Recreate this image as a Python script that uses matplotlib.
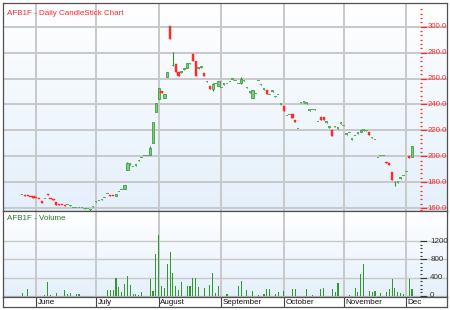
import numpy as np
import matplotlib.pyplot as plt
from matplotlib.colors import LinearSegmentedColormap
from matplotlib.transforms import blended_transform_factory

# daily prices, one entry per trading day (index 0 = mid/late May)
opens = [169.8, 169.8, 169.3, 168.6, 168.3, 167.8, 167.0, 164.6, 167.0, 171.0,
         167.2, 166.6, 164.4, 162.8, 162.3, 162.0, 162.2, 161.7, 160.0, 160.0,
         160.0, 160.0, 159.4, 159.0, 158.6, 160.8, 164.7, 165.2, 166.4, 167.4,
         170.6, 169.8, 169.6, 169.5, 172.1, 173.8, 174.5, 189.3, 193.5, 191.3,
         192.8, 196.3, 198.6, 199.8, 199.8, 200.9, 210.0, 234.4, 244.2, 250.2,
         244.7, 261.0, 300.5, 269.6, 271.2, 265.3, 264.6, 266.9, 267.9, 271.2,
         278.6, 273.5, 267.7, 268.4, 264.5, 257.3, 254.4, 251.9, 255.6, 254.2,
         252.5, 255.3, 255.6, 257.1, 259.2, 257.9, 255.6, 256.3, 258.1, 252.7,
         249.1, 245.2, 247.8, 257.7, 255.0, 251.5, 251.1, 247.0, 249.9, 245.9,
         247.0, 239.9, 238.8, 230.8, 231.6, 232.6, 228.0, 220.8, 241.1, 241.2,
         240.6, 235.2, 235.5, 235.7, 226.4, 230.5, 230.5, 226.0, 222.1, 220.2,
         222.6, 221.3, 225.2, 223.1, 216.7, 217.8, 212.9, 215.4, 217.5, 218.5,
         219.8, 219.5, 219.0, 214.1, 212.3, 198.6, 199.8, 200.1, 195.6, 194.6,
         188.0, 179.0, 179.6, 182.7, 184.7, 187.6, 200.0, 199.6]
closes = [170.4, 169.4, 169.0, 168.3, 168.0, 167.5, 166.7, 164.2, 167.3, 170.0,
          166.9, 166.3, 162.6, 162.5, 162.0, 161.4, 162.5, 162.0, 160.3, 160.3,
          160.3, 160.3, 159.7, 159.3, 158.9, 161.2, 165.1, 165.6, 166.8, 167.8,
          171.0, 169.2, 169.0, 171.0, 172.5, 174.2, 177.5, 194.5, 193.9, 191.7,
          193.2, 196.7, 199.0, 200.2, 200.2, 206.0, 226.6, 240.8, 252.4, 248.8,
          248.0, 265.3, 290.7, 270.5, 265.3, 262.2, 265.0, 267.3, 272.2, 271.6,
          273.7, 261.9, 268.1, 268.8, 262.2, 257.7, 251.9, 255.8, 256.0, 258.3,
          252.9, 255.7, 256.0, 257.5, 259.6, 258.3, 256.0, 259.4, 258.5, 253.1,
          249.5, 251.1, 248.2, 258.1, 255.4, 251.9, 248.3, 247.4, 250.3, 246.3,
          247.4, 240.3, 234.9, 231.2, 232.0, 229.7, 226.4, 221.2, 241.5, 242.5,
          241.0, 235.6, 235.9, 236.1, 226.8, 227.7, 227.7, 226.4, 222.5, 215.8,
          223.0, 221.7, 225.6, 223.5, 217.1, 218.2, 213.3, 215.8, 217.9, 220.5,
          220.2, 219.9, 216.5, 214.5, 212.7, 199.0, 200.2, 200.5, 194.4, 193.4,
          181.6, 179.3, 180.0, 183.1, 185.1, 188.0, 199.0, 208.1]
wick_high = {24: 159.2, 36: 178.0, 37: 195.2, 45: 207.9, 53: 280.2,
             67: 256.3, 77: 261.4, 131: 180.8}
wick_low = {24: 158.0, 37: 189.0, 67: 250.6, 77: 255.8, 131: 177.0}

volume = {0: 70, 2: 160, 8: 20, 9: 310, 10: 20, 12: 70, 15: 135, 16: 40,
          17: 70, 19: 50, 20: 50, 30: 125, 31: 125, 32: 125, 33: 395, 34: 200,
          35: 90, 36: 260, 37: 430, 38: 240, 39: 50, 40: 50, 41: 20, 42: 90,
          45: 360, 46: 110, 47: 920, 48: 1340, 49: 215, 50: 180, 51: 700,
          52: 965, 53: 500, 54: 215, 55: 125, 56: 300, 58: 215, 59: 215,
          60: 395, 61: 395, 62: 200, 64: 180, 66: 240, 67: 500, 68: 60,
          69: 215, 72: 50, 76: 215, 77: 325, 79: 130, 81: 110, 83: 20, 85: 50,
          86: 150, 87: 150, 89: 50, 90: 80, 92: 110, 95: 150, 96: 150,
          100: 150, 102: 20, 105: 150, 106: 180, 109: 150, 110: 80, 111: 290,
          115: 20, 117: 180, 118: 80, 119: 470, 120: 690, 122: 110, 123: 80,
          124: 110, 126: 60, 128: 80, 129: 150, 130: 360, 131: 180, 132: 80,
          133: 70, 134: 50, 136: 380, 137: 160}

month_names = ["June", "July", "August", "September", "October", "November", "Dec"]
month_starts = [5, 26, 48, 70, 92, 113, 135]
price_ticks = [160, 180, 200, 220, 240, 260, 280, 300]
volume_ticks = [0, 400, 800, 1200]

o = np.array(opens)
c = np.array(closes)
x = np.arange(len(o))
hi = np.maximum(o, c)
lo = np.minimum(o, c)
for k, v in wick_high.items():
    hi[k] = v
for k, v in wick_low.items():
    lo[k] = v
vol = np.zeros(len(o))
for k, v in volume.items():
    vol[k] = v

up = c >= o
xlim = (-6.7, 149.3)
grid_c = "#c8c8c8"
frame_c = "#505050"
red = "#ff2a2a"
green_edge = "#2f8f2f"
green_face = "#7ccc7c"
bg = LinearSegmentedColormap.from_list("bg", ["#ffffff", "#e4f0fb"])

fig = plt.figure(figsize=(4.5, 3.1), dpi=100)
W, H = 450, 310


def px_axes(x0, y0, x1, y1):
    return fig.add_axes([x0 / W, 1 - y1 / H, (x1 - x0) / W, (y1 - y0) / H])


ax = px_axes(3, 3, 447, 211)
axv = px_axes(3, 211, 447, 297)
axd = px_axes(3, 297, 447, 307)

# ---- price panel
ylim_p = (157.7, 318.3)
ax.imshow(np.linspace(0, 1, 256).reshape(-1, 1), cmap=bg, aspect="auto",
          extent=[xlim[0], xlim[1], ylim_p[0], ylim_p[1]], origin="upper", zorder=0)
for t in price_ticks:
    ax.axhline(t, color=grid_c, lw=1.4, zorder=1)
for m in month_starts:
    ax.axvline(m, color=grid_c, lw=1.4, zorder=1)

ax.vlines(x, lo, hi, colors=np.where(up, green_edge, red), lw=0.8, zorder=2)
span = np.abs(c - o)
body_h = np.maximum(span, 0.9)
big = span >= 1.5
# real bodies (boxes)
ax.bar(x[up & big], body_h[up & big], bottom=lo[up & big] * 0 + np.minimum(o, c)[up & big],
       width=0.8, color=green_face, edgecolor=green_edge, lw=0.5, zorder=3)
ax.bar(x[~up], body_h[~up], bottom=np.minimum(o, c)[~up], width=0.8,
       color=red, edgecolor=red, lw=0.3, zorder=3)
# tiny bodies (dashes)
ax.bar(x[up & ~big], body_h[up & ~big], bottom=np.minimum(o, c)[up & ~big],
       width=0.85, color="#5aae5a", lw=0, zorder=3)

ax.set_xlim(xlim)
ax.set_ylim(ylim_p)
ax.set_xticks([])
ax.set_yticks([])

tr = blended_transform_factory(ax.transAxes, ax.transData)
for t in price_ticks:
    ax.plot([0.9414, 0.9527], [t, t], color=red, lw=0.9, transform=tr, zorder=4)
    ax.text(0.956, t, f"{t:.1f}", color=red, fontsize=5.6, family="Liberation Sans",
            va="center", ha="left", transform=tr, zorder=4)
minor_p = [t + d for t in price_ticks[:-1] for d in (3.33, 6.67, 10, 13.33, 16.67)]
minor_p += [300 + d for d in (3.33, 6.67, 10, 13.33)]
minor_p += [160 - 1.5]
ax.plot([0.9414] * len(minor_p), minor_p, ls="none", marker="_", ms=2,
        mew=0.9, color=red, transform=tr, zorder=4)

ax.text(0.01, 0.965, "AFB1F - Daily CandleStick Chart", color=red, fontsize=5.8,
        family="Liberation Sans", transform=ax.transAxes, va="top", ha="left")

# ---- volume panel
ylim_v = (-22, 1855)
axv.imshow(np.linspace(0, 1, 256).reshape(-1, 1), cmap=bg, aspect="auto",
           extent=[xlim[0], xlim[1], ylim_v[0], ylim_v[1]], origin="upper", zorder=0)
for t in volume_ticks:
    axv.axhline(t, color=grid_c, lw=1.0, zorder=1)
for m in month_starts:
    axv.axvline(m, color=grid_c, lw=1.4, zorder=1)
axv.bar(x, vol, width=0.4, color="#2e9a2e", zorder=3)
axv.set_xlim(xlim)
axv.set_ylim(ylim_v)
axv.set_xticks([])
axv.set_yticks([])

trv = blended_transform_factory(axv.transAxes, axv.transData)
for t in volume_ticks:
    axv.plot([0.9414, 0.9527], [t, t], color="#333333", lw=0.8, transform=trv, zorder=4)
    axv.text(0.962, t, f"{t}", color="#333333", fontsize=5.8, family="Liberation Sans",
             va="center", ha="left", transform=trv, zorder=4)
minor_v = np.arange(0, 1201, 80)
axv.plot([0.9414] * len(minor_v), minor_v, ls="none", marker="_", ms=1.5,
         mew=0.8, color="#333333", transform=trv, zorder=4)
axv.text(0.01, 0.95, "AFB1F - Volume", color="#2a7a2a", fontsize=5.8,
         family="Liberation Sans", transform=axv.transAxes, va="top", ha="left")

# ---- date strip
axd.set_xlim(xlim)
axd.set_ylim(0, 1)
axd.set_xticks([])
axd.set_yticks([])
for m, name in zip(month_starts, month_names):
    axd.axvline(m, color="#444444", lw=0.8)
    axd.text(m + 0.5, 0.45, name, fontsize=5.8, family="Liberation Sans",
             va="center", ha="left", color="#111111")

for a in (ax, axv, axd):
    for s in a.spines.values():
        s.set_color(frame_c)
        s.set_linewidth(0.9)

fig.savefig("out.png", dpi=100)
